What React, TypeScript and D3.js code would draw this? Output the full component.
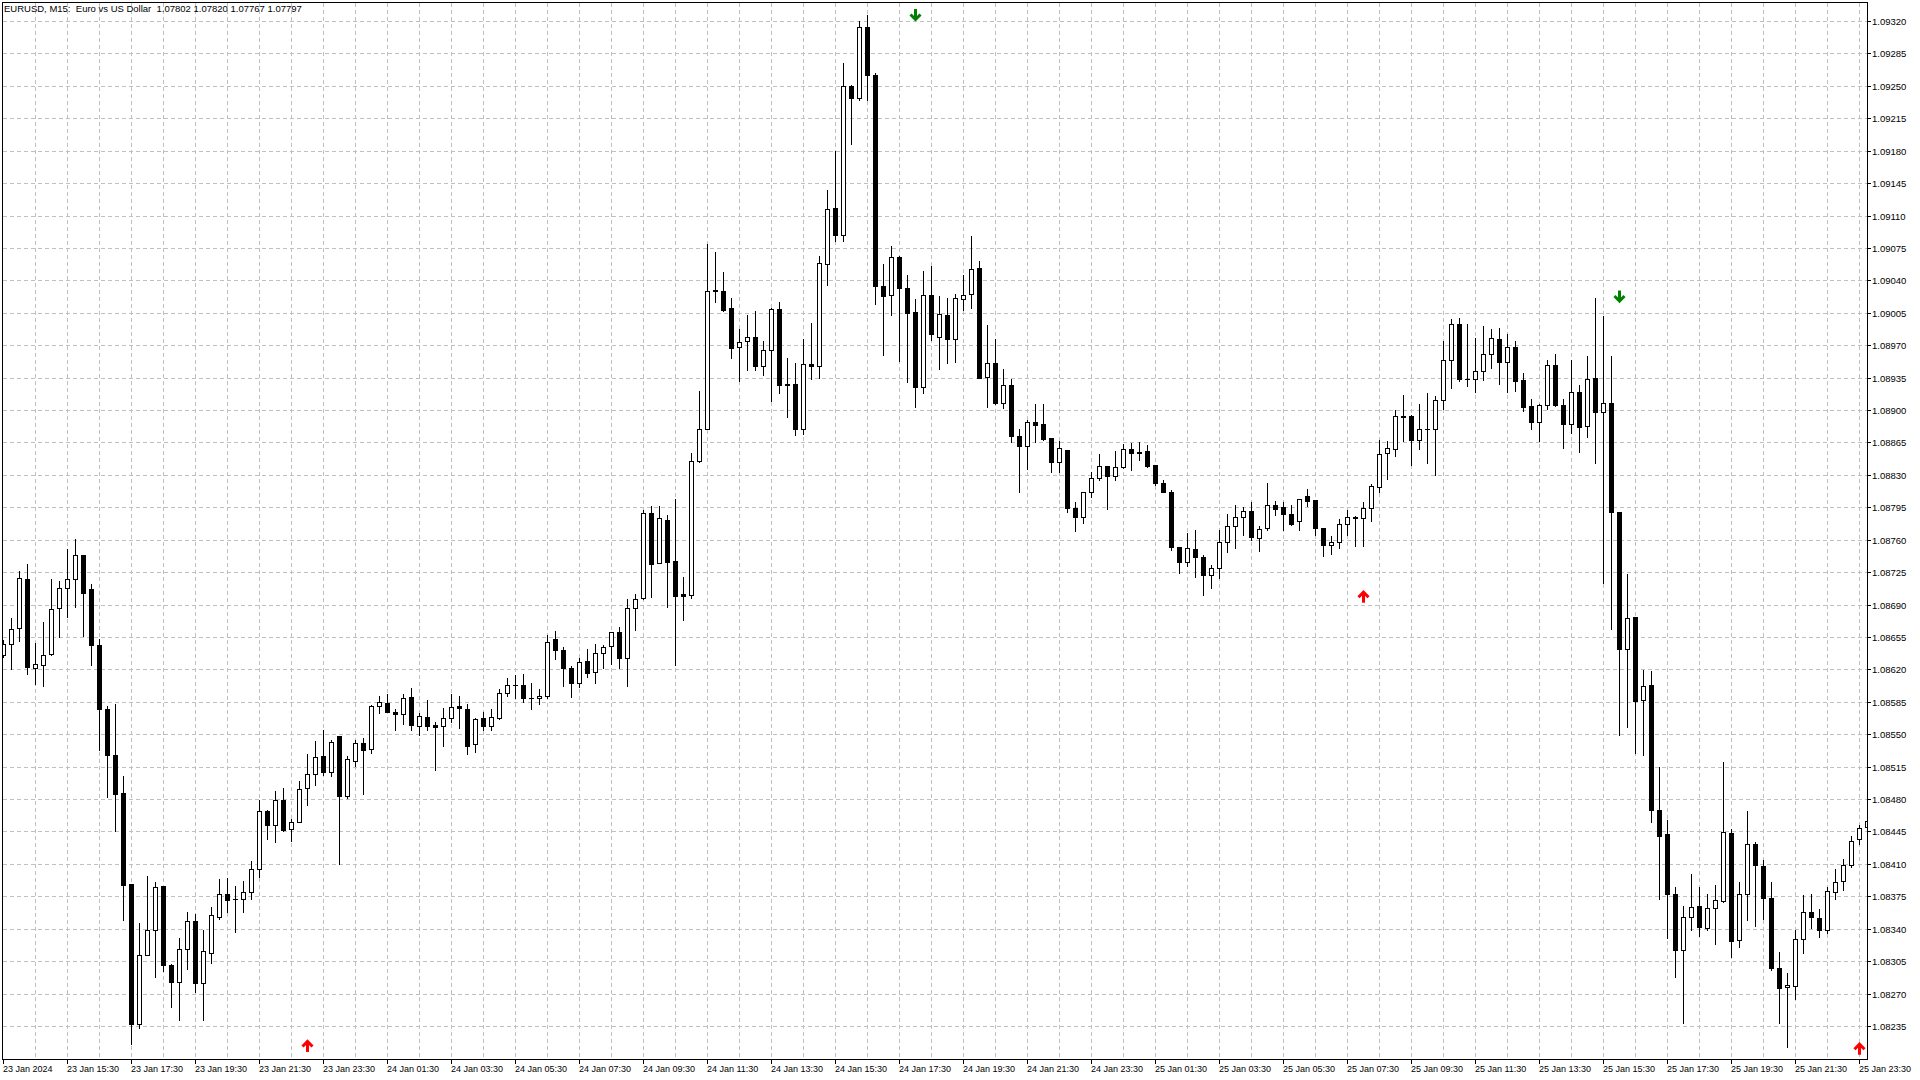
import * as d3 from 'd3';

// EURUSD M15, 23 Jan 13:30 .. 25 Jan 23:45, one entry per bar
const openPrices = [
  1.08636, 1.08647, 1.08665, 1.08718, 1.08622, 1.08625, 1.08637, 1.08686, 1.08708, 1.08718,
  1.08743, 1.08707, 1.08646, 1.08577, 1.08528, 1.08487, 1.08388, 1.08237, 1.08312, 1.08339,
  1.08386, 1.08301, 1.08282, 1.08318, 1.08348, 1.08281, 1.08314, 1.08353, 1.08377, 1.08372,
  1.08372, 1.0838, 1.08405, 1.08467, 1.08452, 1.08479, 1.08448, 1.08455, 1.08492, 1.08507,
  1.08526, 1.08509, 1.08548, 1.08483, 1.08521, 1.0854, 1.08534, 1.0858, 1.08584, 1.08574,
  1.08572, 1.0859, 1.08559, 1.08569, 1.0856, 1.08559, 1.08567, 1.0858, 1.08577, 1.08539,
  1.08567, 1.08559, 1.08568, 1.08595, 1.08603, 1.08603, 1.08589, 1.08589, 1.08591, 1.08653,
  1.08641, 1.08622, 1.08605, 1.08629, 1.08617, 1.08638, 1.08645, 1.0866, 1.08632, 1.08686,
  1.08697, 1.08789, 1.08735, 1.08781, 1.08737, 1.08701, 1.087, 1.08845, 1.0888, 1.09029,
  1.09028, 1.0901, 1.08968, 1.08974, 1.08979, 1.08948, 1.08965, 1.09009, 1.08928, 1.08928,
  1.08879, 1.0895, 1.08948, 1.09058, 1.09118, 1.09089, 1.0925, 1.09237, 1.09313, 1.09262,
  1.09034, 1.09024, 1.09065, 1.09032, 1.09006, 1.08925, 1.09024, 1.08979, 1.09003, 1.08977,
  1.0902, 1.09025, 1.09053, 1.08936, 1.08951, 1.08908, 1.08927, 1.08872, 1.08861, 1.08887,
  1.08885, 1.0887, 1.08844, 1.08857, 1.08794, 1.08784, 1.08812, 1.08827, 1.0884, 1.08829,
  1.08838, 1.08858, 1.08855, 1.08856, 1.08841, 1.08821, 1.08812, 1.08752, 1.08736, 1.0875,
  1.08741, 1.08722, 1.08729, 1.08758, 1.08775, 1.08784, 1.08791, 1.08762, 1.08773, 1.08798,
  1.08795, 1.08788, 1.0878, 1.08807, 1.08803, 1.08773, 1.08754, 1.08758, 1.08777, 1.08784,
  1.08783, 1.08794, 1.08817, 1.08854, 1.08858, 1.08894, 1.08894, 1.08868, 1.08879, 1.08879,
  1.08911, 1.08954, 1.08993, 1.08934, 1.08934, 1.08942, 1.0896, 1.08977, 1.08952, 1.08968,
  1.08932, 1.08904, 1.08887, 1.08905, 1.08949, 1.08905, 1.08885, 1.0892, 1.08883, 1.08935,
  1.08898, 1.08908, 1.0879, 1.08642, 1.08677, 1.08587, 1.08603, 1.08468, 1.08442, 1.08378,
  1.08317, 1.08353, 1.08365, 1.08341, 1.08362, 1.0837, 1.08443, 1.08328, 1.08378, 1.08431,
  1.08408, 1.08373, 1.08298, 1.08277, 1.08278, 1.08329, 1.08358, 1.08352, 1.08339, 1.0838,
  1.08392, 1.08409, 1.08437, 1.0845,
];

const highPrices = [
  1.08652, 1.08675, 1.08726, 1.08734, 1.08648, 1.08671, 1.08718, 1.08715, 1.0875, 1.08761,
  1.08743, 1.08712, 1.08653, 1.08581, 1.08583, 1.08505, 1.08388, 1.08346, 1.08397, 1.08391,
  1.08386, 1.08302, 1.0833, 1.08358, 1.08356, 1.08339, 1.08364, 1.08394, 1.08395, 1.08386,
  1.08392, 1.08413, 1.08479, 1.08468, 1.08489, 1.08492, 1.08459, 1.085, 1.08529, 1.08543,
  1.08555, 1.08544, 1.08548, 1.08527, 1.08544, 1.08546, 1.08582, 1.08591, 1.08593, 1.08577,
  1.08593, 1.086, 1.08573, 1.08587, 1.08563, 1.08578, 1.08593, 1.08591, 1.08583, 1.08567,
  1.08574, 1.08577, 1.08599, 1.08611, 1.08614, 1.08615, 1.08605, 1.08599, 1.08657, 1.08661,
  1.08644, 1.08624, 1.08632, 1.08642, 1.08647, 1.08646, 1.0866, 1.08666, 1.08696, 1.08701,
  1.08792, 1.08796, 1.08796, 1.08787, 1.08804, 1.0872, 1.08854, 1.08921, 1.09079, 1.09071,
  1.09049, 1.09021, 1.08988, 1.09003, 1.09007, 1.08974, 1.0901, 1.09017, 1.08956, 1.08951,
  1.08977, 1.08994, 1.09066, 1.09138, 1.0918, 1.09275, 1.09251, 1.0932, 1.09326, 1.09264,
  1.09058, 1.09077, 1.09066, 1.09046, 1.0902, 1.0905, 1.09055, 1.09023, 1.09021, 1.09025,
  1.09046, 1.09088, 1.09061, 1.08992, 1.08977, 1.08944, 1.08934, 1.0888, 1.08889, 1.08907,
  1.08907, 1.0887, 1.08867, 1.08857, 1.08801, 1.08812, 1.08833, 1.08852, 1.0884, 1.08856,
  1.08863, 1.08864, 1.08866, 1.08862, 1.08841, 1.08825, 1.08814, 1.08752, 1.08767, 1.08771,
  1.08743, 1.08733, 1.08771, 1.08788, 1.08797, 1.08795, 1.08801, 1.08775, 1.08821, 1.08802,
  1.08801, 1.08798, 1.08804, 1.08815, 1.08803, 1.08773, 1.08764, 1.08782, 1.08792, 1.08786,
  1.08801, 1.0882, 1.08868, 1.08867, 1.089, 1.08916, 1.08895, 1.08906, 1.08918, 1.08915,
  1.08975, 1.08998, 1.08999, 1.08993, 1.08978, 1.08991, 1.08987, 1.08989, 1.08982, 1.08975,
  1.0894, 1.08912, 1.08906, 1.08954, 1.0896, 1.08912, 1.08954, 1.08927, 1.08958, 1.09021,
  1.09001, 1.08958, 1.0879, 1.08723, 1.08677, 1.08619, 1.08618, 1.08515, 1.08457, 1.08385,
  1.08365, 1.08399, 1.08385, 1.08377, 1.08387, 1.0852, 1.08448, 1.0839, 1.08467, 1.08434,
  1.08414, 1.08391, 1.08315, 1.08292, 1.08339, 1.08376, 1.08378, 1.08361, 1.08385, 1.08405,
  1.08415, 1.0844, 1.08452, 1.08486,
];

const lowPrices = [
  1.08633, 1.0862, 1.08651, 1.08615, 1.08604, 1.08602, 1.08636, 1.08655, 1.08677, 1.08687,
  1.08656, 1.08625, 1.08533, 1.08482, 1.08445, 1.08349, 1.08216, 1.08233, 1.08312, 1.08288,
  1.08294, 1.08255, 1.08242, 1.08296, 1.08272, 1.08242, 1.08303, 1.08351, 1.08358, 1.08336,
  1.08358, 1.08372, 1.08396, 1.08437, 1.08434, 1.08445, 1.08435, 1.08455, 1.08474, 1.08495,
  1.08506, 1.08505, 1.0841, 1.08481, 1.08516, 1.08486, 1.0853, 1.08573, 1.08574, 1.08555,
  1.08561, 1.08555, 1.08549, 1.08555, 1.08511, 1.08537, 1.08563, 1.08557, 1.08529, 1.08531,
  1.08555, 1.08555, 1.08566, 1.08591, 1.08589, 1.08585, 1.08577, 1.08583, 1.08589, 1.08631,
  1.08602, 1.0859, 1.08601, 1.08612, 1.08605, 1.08622, 1.08626, 1.08621, 1.08602, 1.08662,
  1.08696, 1.08698, 1.08735, 1.08687, 1.08625, 1.08673, 1.08697, 1.08844, 1.08879, 1.09017,
  1.09007, 1.08956, 1.08931, 1.08943, 1.08943, 1.08938, 1.0891, 1.08918, 1.08893, 1.08873,
  1.08874, 1.08934, 1.08935, 1.09035, 1.09083, 1.09083, 1.09187, 1.09235, 1.09235, 1.09014,
  1.08959, 1.09003, 1.08953, 1.0893, 1.08903, 1.08918, 1.08976, 1.08944, 1.08951, 1.08952,
  1.09008, 1.0901, 1.08935, 1.08903, 1.08907, 1.08902, 1.08866, 1.08811, 1.08836, 1.08866,
  1.08868, 1.08833, 1.08833, 1.0879, 1.08769, 1.08778, 1.08806, 1.08824, 1.08793, 1.08824,
  1.08837, 1.08835, 1.08846, 1.08839, 1.08819, 1.08811, 1.08749, 1.08724, 1.08732, 1.0872,
  1.087, 1.08708, 1.08719, 1.08747, 1.08751, 1.08765, 1.0876, 1.08748, 1.0877, 1.08787,
  1.08771, 1.08776, 1.0877, 1.08796, 1.08765, 1.08742, 1.08745, 1.08751, 1.08765, 1.08753,
  1.08753, 1.0878, 1.08812, 1.08826, 1.0885, 1.08867, 1.08841, 1.08858, 1.08843, 1.0883,
  1.08901, 1.08924, 1.08931, 1.08926, 1.08919, 1.08932, 1.08945, 1.08928, 1.08919, 1.08921,
  1.08899, 1.08879, 1.08867, 1.08901, 1.08904, 1.08859, 1.08875, 1.08855, 1.08871, 1.08843,
  1.08713, 1.08664, 1.08549, 1.08558, 1.0853, 1.08528, 1.08455, 1.08372, 1.0833, 1.08288,
  1.08238, 1.08339, 1.08332, 1.08339, 1.08323, 1.08369, 1.08309, 1.0832, 1.08349, 1.08343,
  1.0835, 1.08295, 1.08238, 1.08212, 1.08264, 1.08314, 1.08341, 1.08331, 1.08335, 1.08372,
  1.08382, 1.08407, 1.08432, 1.08445,
];

const closePrices = [
  1.08647, 1.08664, 1.08719, 1.08623, 1.08626, 1.08636, 1.08685, 1.08708, 1.08718, 1.08743,
  1.08702, 1.08646, 1.08577, 1.08528, 1.08485, 1.08387, 1.08237, 1.08312, 1.08339, 1.08385,
  1.08301, 1.08283, 1.08318, 1.08348, 1.08281, 1.08316, 1.08355, 1.08377, 1.08371, 1.08372,
  1.0838, 1.08405, 1.08467, 1.08452, 1.08479, 1.08447, 1.08455, 1.08491, 1.08507, 1.08525,
  1.08509, 1.08542, 1.08483, 1.08523, 1.08541, 1.08533, 1.0858, 1.08585, 1.08574, 1.08572,
  1.08589, 1.0856, 1.0857, 1.08559, 1.08558, 1.08568, 1.08579, 1.08578, 1.08537, 1.08566,
  1.08559, 1.08569, 1.08595, 1.08603, 1.08603, 1.08589, 1.08589, 1.08591, 1.0865, 1.08641,
  1.08622, 1.08605, 1.08628, 1.08616, 1.08638, 1.08644, 1.0866, 1.08632, 1.08686, 1.08696,
  1.08789, 1.08734, 1.08783, 1.08736, 1.08699, 1.08699, 1.08845, 1.0888, 1.09029, 1.0903,
  1.09008, 1.08967, 1.08973, 1.08979, 1.08948, 1.08965, 1.09009, 1.08927, 1.08927, 1.08879,
  1.0895, 1.08948, 1.09059, 1.09117, 1.09089, 1.0925, 1.09237, 1.09313, 1.09262, 1.09034,
  1.09023, 1.09065, 1.09032, 1.09005, 1.08925, 1.09024, 1.08982, 1.09004, 1.08977, 1.09021,
  1.09024, 1.09052, 1.08935, 1.08951, 1.08908, 1.08927, 1.08872, 1.08861, 1.08887, 1.08884,
  1.08869, 1.08844, 1.08859, 1.08794, 1.08785, 1.08812, 1.08827, 1.0884, 1.08829, 1.08838,
  1.08858, 1.08854, 1.08854, 1.0884, 1.08821, 1.08812, 1.08752, 1.08736, 1.08751, 1.08741,
  1.08722, 1.08729, 1.08758, 1.08775, 1.08784, 1.08791, 1.08763, 1.08772, 1.08798, 1.08793,
  1.08788, 1.08777, 1.08804, 1.08802, 1.08773, 1.08754, 1.08758, 1.08777, 1.08784, 1.08783,
  1.08794, 1.08818, 1.08853, 1.08859, 1.08894, 1.08893, 1.08868, 1.08879, 1.08879, 1.08911,
  1.08954, 1.08993, 1.08933, 1.08933, 1.08942, 1.0896, 1.08978, 1.08952, 1.08968, 1.08931,
  1.08903, 1.08887, 1.08905, 1.08949, 1.08905, 1.08885, 1.0892, 1.08882, 1.08933, 1.08898,
  1.08908, 1.0879, 1.08642, 1.08676, 1.08586, 1.08602, 1.08468, 1.0844, 1.08378, 1.08317,
  1.08353, 1.08364, 1.08342, 1.08362, 1.08371, 1.08444, 1.08327, 1.08377, 1.08431, 1.08409,
  1.08373, 1.08298, 1.08276, 1.08279, 1.08329, 1.08358, 1.08353, 1.08339, 1.08381, 1.08391,
  1.08409, 1.08435, 1.08449, 1.08456,
];

const priceTicks = [
  1.0932, 1.09285, 1.0925, 1.09215, 1.0918, 1.09145, 1.0911, 1.09075, 1.0904, 1.09005,
  1.0897, 1.08935, 1.089, 1.08865, 1.0883, 1.08795, 1.0876, 1.08725, 1.0869, 1.08655,
  1.0862, 1.08585, 1.0855, 1.08515, 1.0848, 1.08445, 1.0841, 1.08375, 1.0834, 1.08305,
  1.0827, 1.08235,
];

// one label every 8 bars, starting at bar 0
const timeLabels = [
  '23 Jan 2024', '23 Jan 15:30', '23 Jan 17:30', '23 Jan 19:30', '23 Jan 21:30', '23 Jan 23:30',
  '24 Jan 01:30', '24 Jan 03:30', '24 Jan 05:30', '24 Jan 07:30', '24 Jan 09:30', '24 Jan 11:30',
  '24 Jan 13:30', '24 Jan 15:30', '24 Jan 17:30', '24 Jan 19:30', '24 Jan 21:30', '24 Jan 23:30',
  '25 Jan 01:30', '25 Jan 03:30', '25 Jan 05:30', '25 Jan 07:30', '25 Jan 09:30', '25 Jan 11:30',
  '25 Jan 13:30', '25 Jan 15:30', '25 Jan 17:30', '25 Jan 19:30', '25 Jan 21:30', '25 Jan 23:30',
];

// signal arrows: bar index, price level, direction
const signalBars = [38, 114, 170, 202, 232];
const signalPrices = [1.08214, 1.09326, 1.08699, 1.09022, 1.08211];
const signalUp = [true, false, true, false, true];

const headerText = 'EURUSD, M15:  Euro vs US Dollar  1.07802 1.07820 1.07767 1.07797';

const FONT = "'Liberation Sans', Arial, sans-serif";
const frame = { left: 2, top: 2, right: 1867, bottom: 1059 };

function App() {
  const n = openPrices.length;
  const x = d3.scaleLinear().domain([0, n - 1]).range([3, 3 + 8 * (n - 1)]);
  const y = d3.scaleLinear().domain([1.08235, 1.0932]).range([1026, 21]);
  const row = (p: number) => Math.round(y(p));
  const col = (i: number) => Math.round(x(i));

  const gridBars = d3.range(4, n, 4);
  const labelBars = timeLabels.map((_, k) => k * 8);

  return (
    <div style={{ position: 'fixed', left: 0, top: 0, background: '#fff' }}>
      <svg width={1920} height={1080} style={{ display: 'block' }} fontFamily={FONT}>
        <defs>
          <clipPath id="plot-clip">
            <rect
              x={frame.left + 1}
              y={frame.top + 1}
              width={frame.right - frame.left - 1}
              height={frame.bottom - frame.top - 1}
            />
          </clipPath>
        </defs>
        <rect width={1920} height={1080} fill="#fff" />

        <g stroke="#c0c0c0" strokeDasharray="4 3" shapeRendering="crispEdges">
          {priceTicks.map((p) => (
            <line
              key={`h${p}`}
              x1={frame.left + 1}
              x2={frame.right}
              y1={row(p) + 0.5}
              y2={row(p) + 0.5}
            />
          ))}
          {gridBars.map((i) => (
            <line
              key={`v${i}`}
              x1={col(i) + 0.5}
              x2={col(i) + 0.5}
              y1={frame.top + 1}
              y2={frame.bottom}
            />
          ))}
        </g>

        <text x={4} y={11.5} fontSize={9.5} fill="#000" style={{ whiteSpace: 'pre' }}>
          {headerText}
        </text>

        <g clipPath="url(#plot-clip)" shapeRendering="crispEdges">
          {openPrices.map((o, i) => {
            const c = closePrices[i];
            const cx = col(i);
            const yo = row(o);
            const yc = row(c);
            const top = Math.min(yo, yc);
            const bot = Math.max(yo, yc);
            let body;
            if (bot - top < 1) {
              body = <line x1={cx - 2} x2={cx + 3} y1={top + 0.5} y2={top + 0.5} stroke="#000" />;
            } else if (c > o) {
              body = (
                <rect x={cx - 1.5} y={top + 0.5} width={4} height={bot - top} fill="#fff" stroke="#000" />
              );
            } else {
              body = <rect x={cx - 2} y={top} width={5} height={bot - top + 1} fill="#000" />;
            }
            return (
              <g key={i}>
                <line
                  x1={cx + 0.5}
                  x2={cx + 0.5}
                  y1={row(highPrices[i])}
                  y2={row(lowPrices[i]) + 1}
                  stroke="#000"
                />
                {body}
              </g>
            );
          })}
        </g>

        <g fill="none" strokeWidth={3} strokeLinejoin="miter">
          {signalBars.map((b, k) => {
            const cx = col(b) + 0.5;
            const cy = y(signalPrices[k]);
            const s = signalUp[k] ? 1 : -1;
            const color = signalUp[k] ? '#ff0000' : '#008000';
            return (
              <g key={`s${b}`} stroke={color}>
                <line x1={cx} x2={cx} y1={cy - 3 * s} y2={cy + 6.5 * s} />
                <polyline
                  points={`${cx - 5},${cy + 1 * s} ${cx},${cy - 4 * s} ${cx + 5},${cy + 1 * s}`}
                />
              </g>
            );
          })}
        </g>

        <g stroke="#000" shapeRendering="crispEdges">
          <rect
            x={frame.left + 0.5}
            y={frame.top + 0.5}
            width={frame.right - frame.left}
            height={frame.bottom - frame.top}
            fill="none"
          />
          {priceTicks.map((p) => (
            <line key={`pt${p}`} x1={frame.right} x2={frame.right + 4} y1={row(p) + 0.5} y2={row(p) + 0.5} />
          ))}
          {labelBars.map((i) => (
            <line key={`tt${i}`} x1={col(i) + 0.5} x2={col(i) + 0.5} y1={frame.bottom} y2={frame.bottom + 5} />
          ))}
        </g>

        <g fontSize={9.5} fill="#000">
          {priceTicks.map((p) => (
            <text key={`pl${p}`} x={frame.right + 5} y={row(p) + 0.5} dy="0.35em">
              {d3.format('.5f')(p)}
            </text>
          ))}
        </g>
        <g fontSize={9} fill="#000">
          {timeLabels.map((t, k) => (
            <text key={t} x={Math.max(2, col(labelBars[k]))} y={1072}>
              {t}
            </text>
          ))}
        </g>
      </svg>
    </div>
  );
}

export default App;
